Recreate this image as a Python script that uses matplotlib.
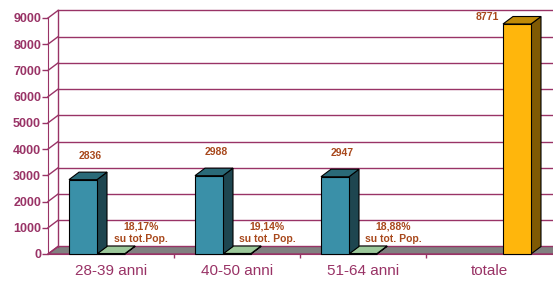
import matplotlib

matplotlib.use('Agg')
import matplotlib.pyplot as plt
from matplotlib.patches import Polygon

plt.rcParams['font.family'] = ['Liberation Sans', 'DejaVu Sans']

# dati
categorie = ['28-39 anni', '40-50 anni', '51-64 anni', 'totale']
residenti = [2836, 2988, 2947, 0]
percentuali = [18.17, 19.14, 18.88, 0]
totale = [0, 0, 0, 8771]
etichette_perc = ['18,17%\nsu tot.Pop.', '19,14%\nsu tot. Pop.', '18,88%\nsu tot. Pop.']

PLUM = '#993366'
LABEL = '#A8481C'

fig = plt.figure(figsize=(5.53, 2.82), dpi=100)
ax = fig.add_axes([48 / 553, 28 / 282, 505 / 553, 236 / 282])
xmax = -0.5 + 505 / 126
ax.set_xlim(-0.5, xmax)
ax.set_ylim(0, 9000)

# profondita' della prospettiva (in unita' dati)
dx = 10 / 126
dy = 7.5 / 236 * 9000
w = 28 / 126

# pavimento grigio
floor = Polygon([(-0.5, 0), (xmax, 0), (xmax + dx, dy), (-0.5 + dx, dy)],
                closed=True, facecolor='#808080', edgecolor=PLUM, lw=1,
                clip_on=False, zorder=1)
ax.add_patch(floor)

# parete di fondo e griglia
yt = list(range(0, 9001, 1000))
ax.plot([-0.5 + dx, -0.5 + dx], [dy, 9000 + dy], color=PLUM, lw=1, clip_on=False, zorder=1)
for v in yt:
    ax.plot([-0.5, -0.5 + dx], [v, v + dy], color=PLUM, lw=1, clip_on=False, zorder=1)
    if v > 0:
        ax.plot([-0.5 + dx, xmax + 0.1], [v + dy, v + dy], color=PLUM, lw=1,
                clip_on=False, zorder=1)


def bar3d(x0, v, front, top, side):
    x1 = x0 + w
    ax.add_patch(Polygon([(x1, 0), (x1 + dx, dy), (x1 + dx, v + dy), (x1, v)],
                         facecolor=side, edgecolor='black', lw=0.8, zorder=3, clip_on=False))
    ax.add_patch(Polygon([(x0, v), (x1, v), (x1 + dx, v + dy), (x0 + dx, v + dy)],
                         facecolor=top, edgecolor='black', lw=0.8, zorder=3, clip_on=False))
    ax.add_patch(Polygon([(x0, 0), (x1, 0), (x1, v), (x0, v)],
                         facecolor=front, edgecolor='black', lw=0.8, zorder=3, clip_on=False))


# barre: da destra verso sinistra per la sovrapposizione
for i in reversed(range(len(categorie))):
    if totale[i] > 0:
        bar3d(i + 0.5 * w, totale[i], '#FFB60C', '#C08A08', '#7F5A04')
    if percentuali[i] > 0:
        bar3d(i - 0.5 * w, percentuali[i], '#9CC89A', '#9CC89A', '#6E9A6C')
    if residenti[i] > 0:
        bar3d(i - 1.5 * w, residenti[i], '#3A90A8', '#2A6A78', '#1E4650')

# etichette
lab = dict(color=LABEL, fontsize=7.5, fontweight='bold', ha='center', va='center',
           textcoords='offset points', zorder=5, annotation_clip=False)
for i, v in enumerate(residenti):
    if v > 0:
        ax.annotate(str(v), (i - w + dx / 2, v + dy), xytext=(1.5, 11.5), **lab)
for i, v in enumerate(totale):
    if v > 0:
        ax.annotate(str(v), (i + w + dx / 2, v + dy), xytext=(-25, 0), **lab)
for i, t in enumerate(etichette_perc):
    ax.annotate(t, (i, percentuali[i]), xytext=(21.6, 14.8), linespacing=1.25, **lab)

# assi
for s in ['top', 'right']:
    ax.spines[s].set_visible(False)
ax.spines['left'].set_color(PLUM)
ax.spines['bottom'].set_color(PLUM)
ax.spines['left'].set_zorder(2)
ax.spines['bottom'].set_zorder(2)
ax.set_yticks(yt)
ax.set_yticklabels([str(v) for v in yt], color=PLUM, fontsize=9, fontweight='bold')
ax.tick_params(axis='y', colors=PLUM, length=4, width=1, pad=1)
ax.set_xticks(range(len(categorie)))
ax.set_xticklabels(categorie, color=PLUM, fontsize=11)
ax.tick_params(axis='x', length=0, pad=7)
ax.set_xticks([0.5, 1.5, 2.5], minor=True)
ax.tick_params(axis='x', which='minor', length=3, width=1, colors=PLUM)
ax.patch.set_alpha(0)

fig.savefig('out.png', dpi=100)
